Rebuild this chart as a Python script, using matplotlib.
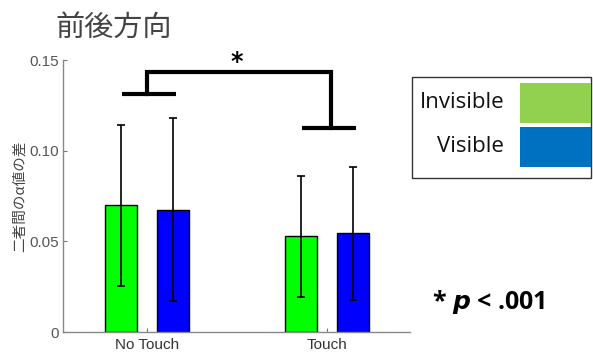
import numpy as np
import matplotlib
matplotlib.use('Agg')
import matplotlib.pyplot as plt
from matplotlib.patches import Rectangle

plt.rcParams['font.family'] = ['Noto Sans CJK JP', 'DejaVu Sans']

# データ
conditions = ['No Touch', 'Touch']
invisible_mean = [0.0699, 0.0529]
invisible_err = [0.0445, 0.0334]
visible_mean = [0.0674, 0.0544]
visible_err = [0.0505, 0.0368]
legend_labels = ['Invisible', 'Visible']

fig = plt.figure(figsize=(5.93, 3.52), dpi=100)
ax = fig.add_axes([0.1062, 0.0568, 0.585, 0.7727])

x = np.arange(1, len(conditions) + 1)
w = 0.178
off = 0.144
ax.bar(x - off, invisible_mean, w, color='#00ff00', edgecolor='black', linewidth=1)
ax.bar(x + off, visible_mean, w, color='#0000ff', edgecolor='black', linewidth=1)
ax.errorbar(x - off, invisible_mean, yerr=invisible_err, fmt='none', ecolor='black',
            elinewidth=1.2, capsize=3, capthick=1.2)
ax.errorbar(x + off, visible_mean, yerr=visible_err, fmt='none', ecolor='black',
            elinewidth=1.2, capsize=3, capthick=1.2)

ax.set_xlim(0.533, 2.461)
ax.set_ylim(0, 0.15)
ax.set_xticks(x)
ax.set_xticklabels(conditions, fontsize=11, color='#333333', family=['Liberation Sans'])
ax.set_yticks([0, 0.05, 0.10, 0.15])
ax.set_yticklabels(['0', '0.05', '0.10', '0.15'], fontsize=11, color='#555555',
                   family=['Liberation Sans'])
ax.tick_params(direction='in', length=3, color='#777777', pad=3)
ax.tick_params(axis='x', pad=4)
for s in ['top', 'right']:
    ax.spines[s].set_visible(False)
for s in ['left', 'bottom']:
    ax.spines[s].set_color('#888888')
    ax.spines[s].set_linewidth(1)
ax.set_ylabel('二者間のα値の差', fontsize=10.5, color='#444444', labelpad=2)

# 有意差の括弧
lw = 3
ax.plot([1 - 0.139, 1 + 0.161], [0.1312, 0.1312], color='black', lw=lw, clip_on=False,
        solid_capstyle='butt')
ax.plot([2 - 0.139, 2 + 0.161], [0.1125, 0.1125], color='black', lw=lw, clip_on=False,
        solid_capstyle='butt')
ax.plot([1.0, 1.0, 2.02, 2.02], [0.1312, 0.1433, 0.1433, 0.1125], color='black', lw=lw,
        clip_on=False, solid_joinstyle='miter')
ax.text(1.5, 0.149, '*', fontsize=17, fontweight='bold', ha='center', va='center',
        family=['DejaVu Sans'])

fig.text(55 / 593, 1 - 28 / 352, '前後方向', fontsize=21, color='#444444', ha='left',
         va='center')

# 凡例（図に重ねた枠）
W, H = 593, 352
fig.patches.append(Rectangle((412 / W, 1 - 178 / H), 179 / W, 101 / H, transform=fig.transFigure,
                             facecolor='white', edgecolor='#333333', linewidth=1))
leg_colors = ['#92d050', '#0070c0']
leg_y = [83, 127]
for lab, c, yy in zip(legend_labels, leg_colors, leg_y):
    fig.patches.append(Rectangle((520 / W, 1 - (yy + 40) / H), 71 / W, 40 / H,
                                 transform=fig.transFigure, facecolor=c, edgecolor='none'))
    fig.text(504 / W, 1 - (yy + 19) / H, lab, fontsize=16, ha='right', va='center',
             family=['Open Sans'], color='#111111')

fig.text(432 / W, 1 - 302 / H, r'* $\boldsymbol{p}$ < .001', fontsize=18, fontweight='bold',
         ha='left', va='center', family=['Open Sans'])

fig.savefig('out.png', dpi=100)
